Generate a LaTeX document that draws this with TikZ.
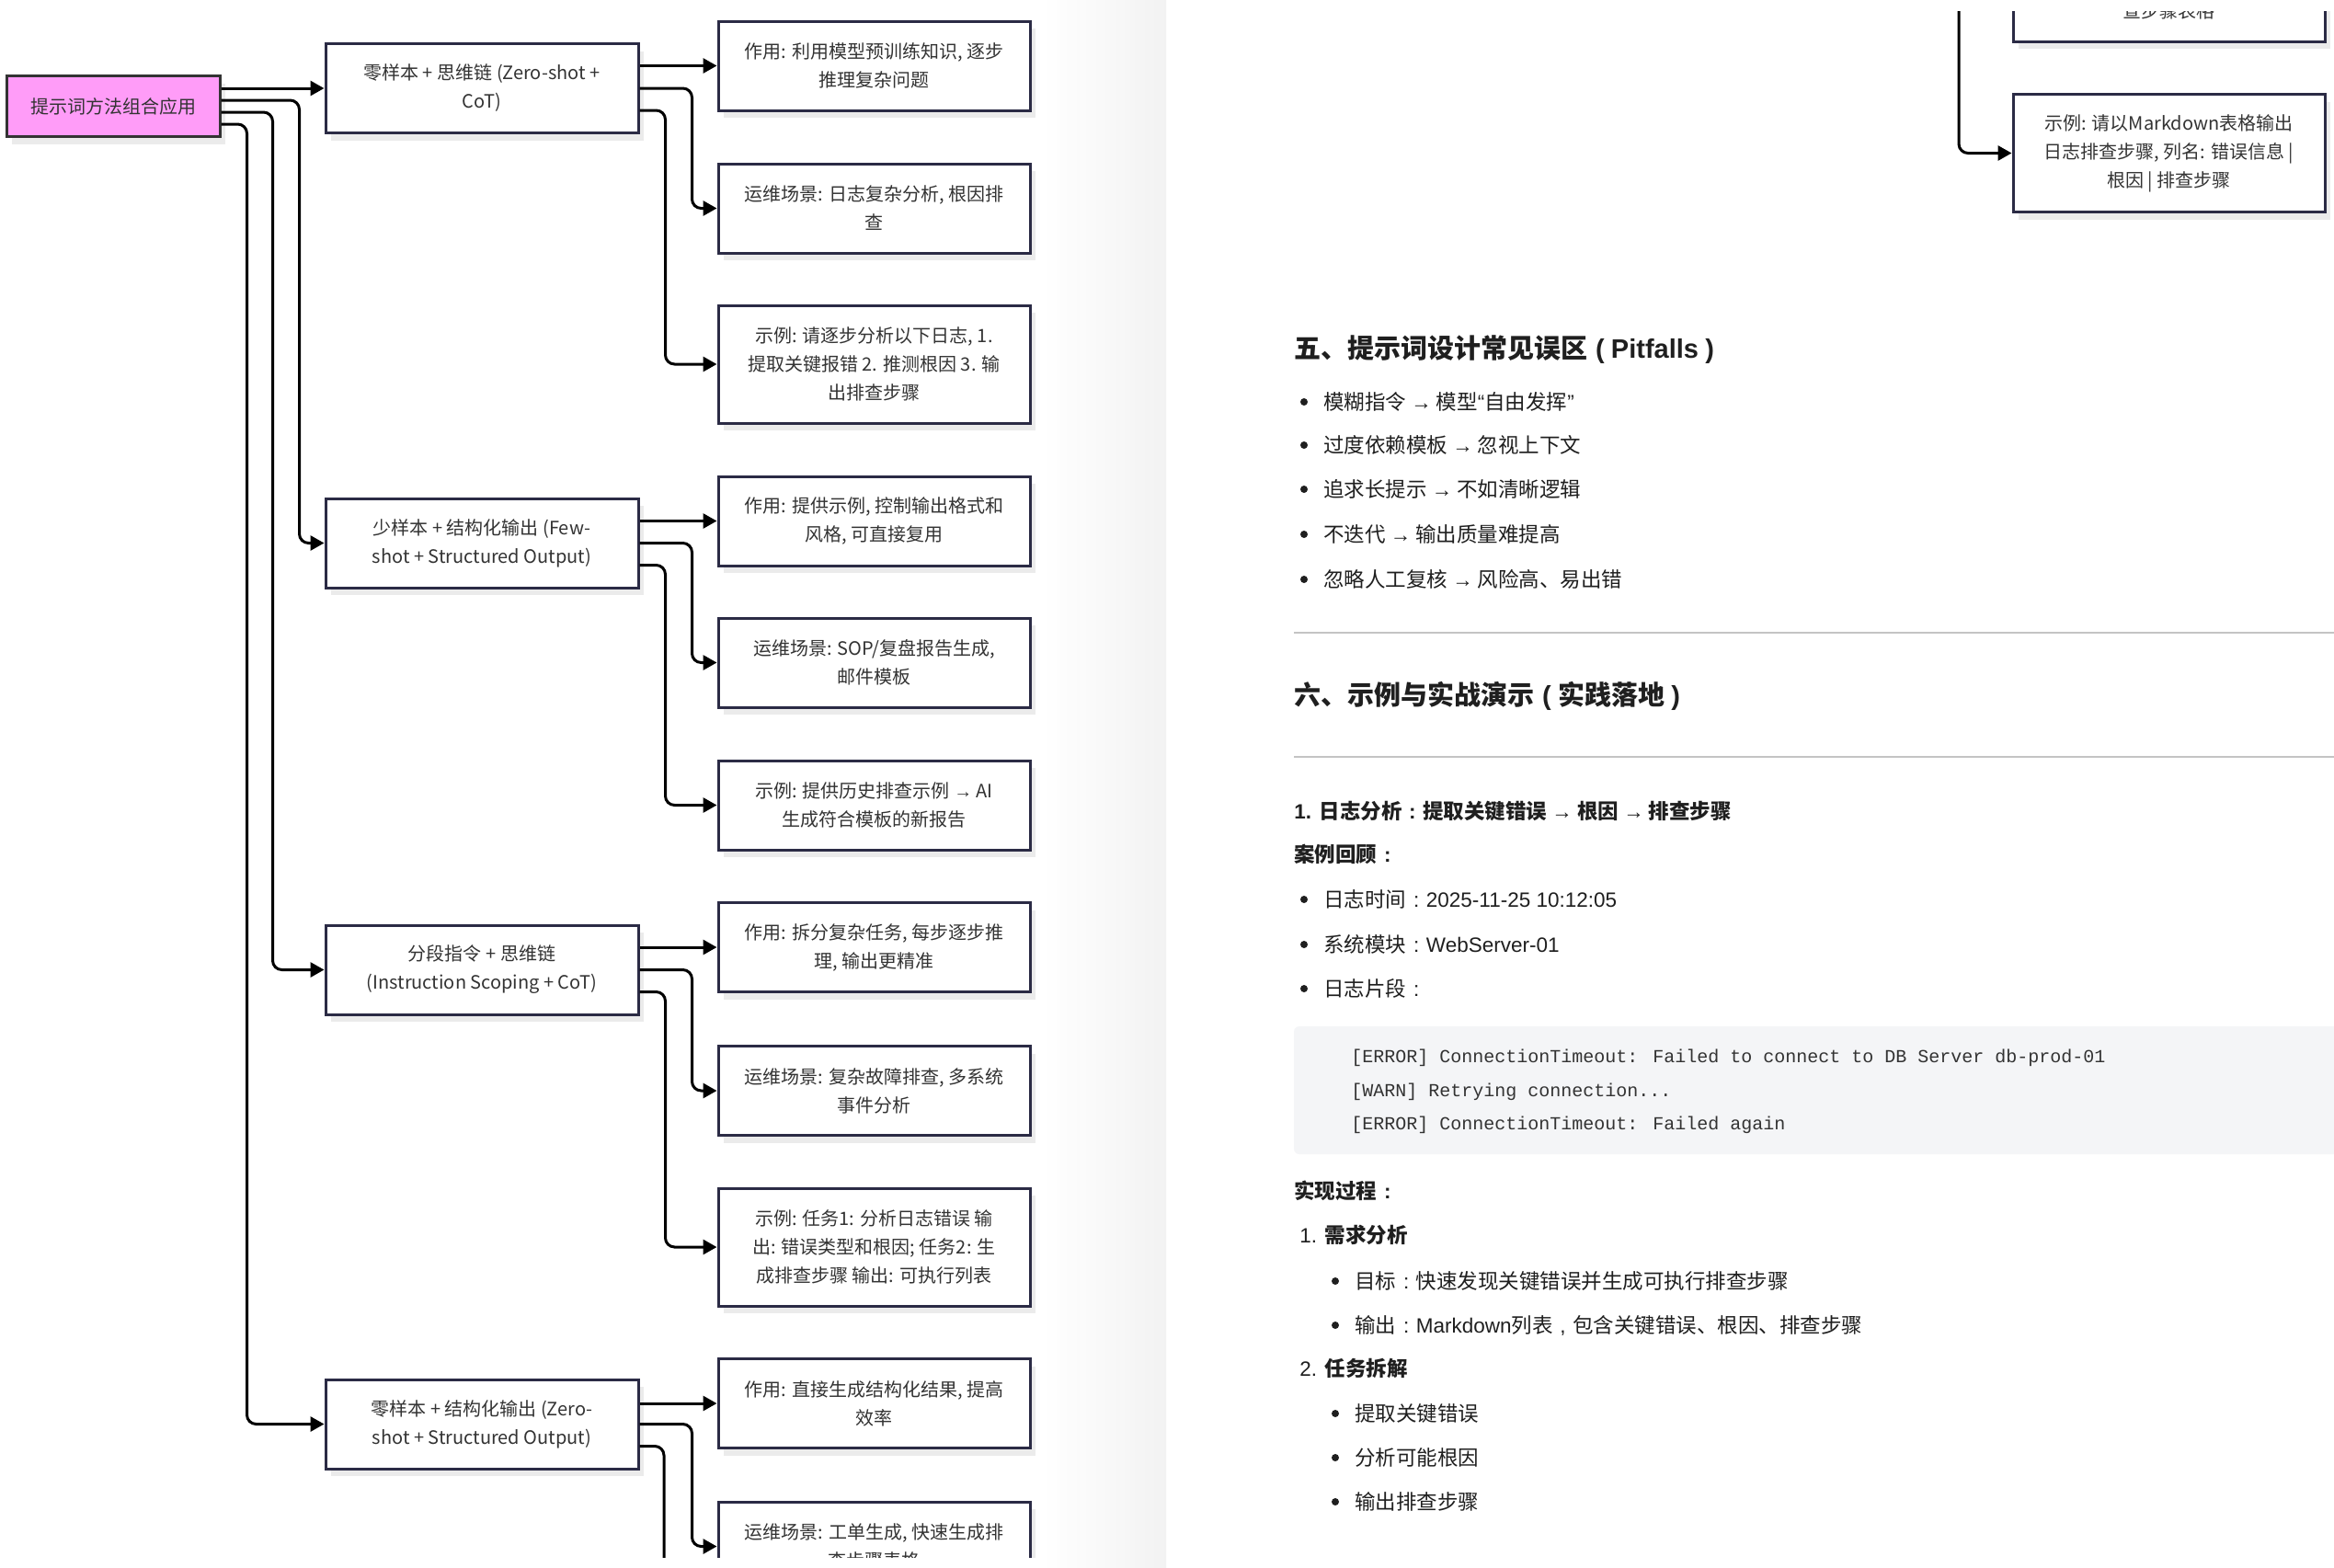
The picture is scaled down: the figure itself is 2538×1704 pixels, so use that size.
\documentclass[tikz,border=0pt]{standalone}
\usepackage{fontspec}
\setmainfont{Noto Sans CJK SC}
\newfontfamily\lat{Liberation Sans}
\newfontfamily\codefont{Liberation Mono}
\usetikzlibrary{arrows.meta,calc,shadows}
\definecolor{boxline}{HTML}{2B2B45}
\definecolor{rootfill}{HTML}{FF9CF8}
\definecolor{txt}{HTML}{333333}
\definecolor{bodytxt}{HTML}{1F1F1F}
\definecolor{codebg}{HTML}{F4F5F7}
\definecolor{rulegray}{HTML}{C4C4C4}
\definecolor{shadowgray}{HTML}{EBEBEB}
\newcommand\fcolon{{\lat\hspace{0.34em}:\hspace{0.34em}}}
\newcommand\fcomma{{\lat\hspace{0.34em},\hspace{0.34em}}}
\newcommand\lparen{{\lat\hspace{0.3em}(\hspace{0.25em}}}
\newcommand\rparen{{\lat\hspace{0.25em})}}
\tikzset{
 dbox/.style={draw=boxline, line width=1.5pt, fill=white, inner sep=0pt, align=center, text=txt,
   font=\fontsize{10}{15.5}\selectfont,
   drop shadow={shadow xshift=3pt, shadow yshift=-4pt, fill=shadowgray, opacity=1}},
 rootbox/.style={dbox, fill=rootfill, draw=black!80, minimum width=116pt, minimum height=33pt},
 midbox/.style={dbox, minimum width=170pt, minimum height=48.5pt},
 leafbox/.style={dbox, minimum width=169.5pt, minimum height=48.5pt},
 tallbox/.style={leafbox, minimum height=64pt},
 connline/.style={line width=1.5pt, rounded corners=5pt},
 conn/.style={connline, -{Triangle[length=7.5pt,width=8pt]}},
 body/.style={anchor=base west, inner sep=0pt, text=bodytxt, font=\fontsize{11.25}{13}\selectfont},
 bodybold/.style={body, font=\fontsize{11.25}{13}\selectfont\bfseries},
 heading/.style={anchor=base west, inner sep=0pt, text=bodytxt, font=\fontsize{14.5}{16}\selectfont\bfseries},
 codeline/.style={anchor=base west, inner sep=0pt, text=txt, font=\fontsize{10}{12}\selectfont\codefont},
 bulletdot/.style={fill=bodytxt},
 hrule/.style={draw=rulegray, line width=1pt}
}
\begin{document}
\begin{tikzpicture}[x=0.5pt,y=-0.5pt]
\useasboundingbox (0,0) rectangle (2538,1704);
\fill[white] (0,0) rectangle (2538,1704);
\shade[left color=white,right color=black!5] (1133,0) rectangle (1268,1704);
% ---------- left page: the diagram ----------
\begin{scope}
 \clip (0,0) rectangle (1268,1693);
 \node[rootbox] (root) at (123,115.5) {提示词方法组合应用};
 \node[midbox] (c1) at (524,96) {零样本 + 思维链 (Zero-shot +\\CoT)};
 \node[midbox] (c2) at (524,590.5) {少样本 + 结构化输出 (Few-\\shot + Structured Output)};
 \node[midbox] (c3) at (524,1054.5) {分段指令 + 思维链\\(Instruction Scoping + CoT)};
 \node[midbox] (c4) at (524,1548.5) {零样本 + 结构化输出 (Zero-\\shot + Structured Output)};
 \node[leafbox] (l11) at (950.5,71.5) {作用: 利用模型预训练知识, 逐步\\推理复杂问题};
 \node[leafbox] (l12) at (950.5,226.5) {运维场景: 日志复杂分析, 根因排\\查};
 \node[tallbox] (l13) at (950.5,396) {示例: 请逐步分析以下日志, 1.\\提取关键报错 2. 推测根因 3. 输\\出排查步骤};
 \node[leafbox] (l21) at (950.5,566.5) {作用: 提供示例, 控制输出格式和\\风格, 可直接复用};
 \node[leafbox] (l22) at (950.5,720.5) {运维场景: SOP/复盘报告生成,\\邮件模板};
 \node[leafbox] (l23) at (950.5,875.5) {示例: 提供历史排查示例 {\lat →} AI\\生成符合模板的新报告};
 \node[leafbox] (l31) at (950.5,1030) {作用: 拆分复杂任务, 每步逐步推\\理, 输出更精准};
 \node[leafbox] (l32) at (950.5,1186) {运维场景: 复杂故障排查, 多系统\\事件分析};
 \node[tallbox] (l33) at (950.5,1356) {示例: 任务1: 分析日志错误 输\\出: 错误类型和根因; 任务2: 生\\成排查步骤 输出: 可执行列表};
 \node[leafbox] (l41) at (950.5,1526) {作用: 直接生成结构化结果, 提高\\效率};
 \node[leafbox] (l42) at (950.5,1681.5) {运维场景: 工单生成, 快速生成排\\查步骤表格};
 \coordinate (l43stub) at (722,1700);
 \draw[conn] (root.east |- c1) -- (c1.west);
 \draw[conn] ($(root.east)+(0,-6.5)$) -- ++(85,0) |- (c2.west);
 \draw[conn] ($(root.east)+(0,6.5)$) -- ++(56,0) |- (c3.west);
 \draw[conn] ($(root.east)+(0,19.5)$) -- ++(28,0) |- (c4.west);
 \foreach \g in {1,2,3}{
  \draw[conn] (c\g.east |- l\g1) -- (l\g1.west);
  \draw[conn] (c\g.east) -- ++(57,0) |- (l\g2.west);
  \draw[conn] ($(c\g.east)+(0,24)$) -- ++(28,0) |- (l\g3.west);
 }
 \draw[conn] (c4.east |- l41) -- (l41.west);
 \draw[conn] (c4.east) -- ++(57,0) |- (l42.west);
 \draw[connline] ($(c4.east)+(0,24)$) -| (l43stub);
\end{scope}
% ---------- right page: continuation of the diagram ----------
\begin{scope}
 \clip (1268,12) rectangle (2538,320);
 \node[leafbox] (r42) at (2358.5,-3.5) {运维场景: 工单生成, 快速生成排\\查步骤表格};
 \node[tallbox] (r43) at (2358.5,166.5) {示例: 请以Markdown表格输出\\日志排查步骤, 列名: 错误信息 |\\根因 | 排查步骤};
 \coordinate (rtop) at (2130,12);
 \draw[conn] (rtop) |- (r43.west);
\end{scope}
% ---------- section five ----------
\node[heading] (h5) at (1407,389) {五、提示词设计常见误区\lparen{\lat Pitfalls}\rparen};
\foreach \yy/\tt [count=\i] in {437/{模糊指令 {\lat →} 模型{\lat “}自由发挥{\lat ”}},
  484/{过度依赖模板 {\lat →} 忽视上下文},
  532/{追求长提示 {\lat →} 不如清晰逻辑},
  581/{不迭代 {\lat →} 输出质量难提高},
  630/{忽略人工复核 {\lat →} 风险高、易出错}}{
 \fill[bulletdot] (1418,\yy) circle (2pt);
 \node[body] (p\i) at (1439,\yy+8.5) {\tt};
}
\draw[hrule] (1407,688) -- (2538,688);
% ---------- section six ----------
\node[heading] (h6) at (1407,766) {六、示例与实战演示\lparen 实践落地\rparen};
\draw[hrule] (1407,823) -- (2538,823);
\node[bodybold] (s1) at (1407,890.5) {{\lat 1. }日志分析\fcolon 提取关键错误 {\lat →} 根因 {\lat →} 排查步骤};
\node[bodybold] (case) at (1407,937.5) {案例回顾\fcolon};
\fill[bulletdot] (1418,978) circle (2pt);
\node[body] (b1) at (1439,986.5) {日志时间\fcolon{\lat 2025-11-25 10:12:05}};
\fill[bulletdot] (1418,1027) circle (2pt);
\node[body] (b2) at (1439,1035.5) {系统模块\fcolon{\lat WebServer-01}};
\fill[bulletdot] (1418,1075) circle (2pt);
\node[body] (b3) at (1439,1083.5) {日志片段\fcolon};
\fill[codebg, rounded corners=3pt] (1407,1116) rectangle (2560,1255);
\node[codeline] (k1) at (1469,1155) {[ERROR] ConnectionTimeout: Failed to connect to DB Server db-prod-01};
\node[codeline] (k2) at (1469,1192) {[WARN] Retrying connection...};
\node[codeline] (k3) at (1469,1228) {[ERROR] ConnectionTimeout: Failed again};
\node[bodybold] (impl) at (1407,1303.5) {实现过程\fcolon};
\node[body] (n1) at (1413,1351.5) {{\lat 1. }\textbf{需求分析}};
\fill[bulletdot] (1452,1393) circle (2pt);
\node[body] (n1a) at (1473,1401.5) {目标\fcolon 快速发现关键错误并生成可执行排查步骤};
\fill[bulletdot] (1452,1441) circle (2pt);
\node[body] (n1b) at (1473,1449.5) {输出\fcolon{\lat Markdown}列表\fcomma 包含关键错误、根因、排查步骤};
\node[body] (n2) at (1413,1496.5) {{\lat 2. }\textbf{任务拆解}};
\fill[bulletdot] (1452,1537) circle (2pt);
\node[body] (n2a) at (1473,1545.5) {提取关键错误};
\fill[bulletdot] (1452,1585) circle (2pt);
\node[body] (n2b) at (1473,1593.5) {分析可能根因};
\fill[bulletdot] (1452,1633) circle (2pt);
\node[body] (n2c) at (1473,1641.5) {输出排查步骤};
\end{tikzpicture}
\end{document}
